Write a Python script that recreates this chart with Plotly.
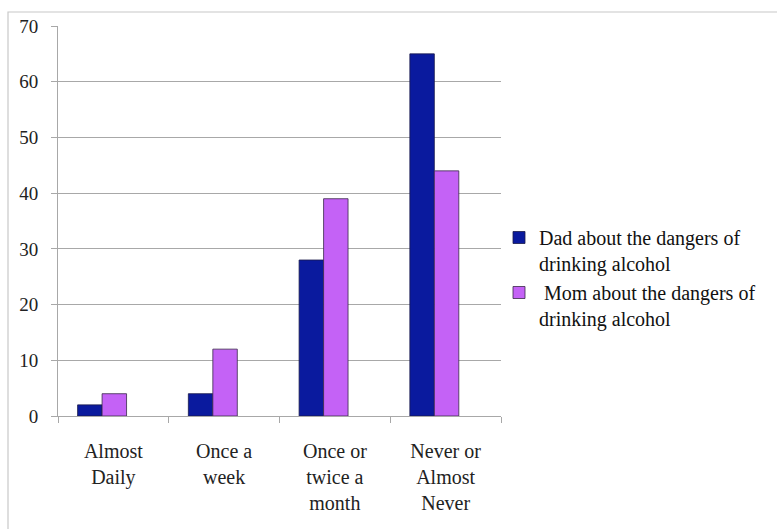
import plotly.graph_objects as go

categories = ["Almost<br>Daily", "Once a<br>week", "Once or<br>twice a<br>month", "Never or<br>Almost<br>Never"]
dad_values = [2, 4, 28, 65]
mom_values = [4, 12, 39, 44]
dad_name = "Dad about the dangers of<br>drinking alcohol"
mom_name = " Mom about the dangers of<br>drinking alcohol"

font_family = "Liberation Serif"

fig = go.Figure()
fig.add_trace(go.Bar(x=categories, y=dad_values, name=dad_name, width=0.221, offset=-0.323,
                     marker=dict(color="#0A1A9E", line=dict(color="#1a1a4a", width=0.8))))
fig.add_trace(go.Bar(x=categories, y=mom_values, name=mom_name, width=0.221, offset=-0.102,
                     marker=dict(color="#C462F6", line=dict(color="#3a2a4a", width=0.8))))

L, R, T, B = 58, 501, 26, 416
W, H = 777, 529
pw, ph = R - L, B - T

def px(xp):
    return (xp - L) / pw

def py(yp):
    return (B - yp) / ph

fig.update_layout(
    width=W, height=H,
    margin=dict(l=L, r=W - R, t=T, b=H - B, pad=0),
    paper_bgcolor="white", plot_bgcolor="white",
    barmode="group",
    font=dict(family=font_family, color="#222222", size=20),
    showlegend=True,
    legend=dict(x=px(499), y=py(218), xanchor="left", yanchor="top",
                font=dict(size=20, family=font_family, color="#111111"),
                valign="top", tracegroupgap=1, itemwidth=30,
                bgcolor="rgba(0,0,0,0)"),
    shapes=[dict(type="rect", xref="paper", yref="paper",
                 x0=px(8), x1=px(790), y0=py(540), y1=py(12),
                 line=dict(color="#c8c8c8", width=1.2), fillcolor="rgba(0,0,0,0)", layer="below")],
)
fig.update_yaxes(range=[0, 70], dtick=10, showgrid=True, gridcolor="#a8a8a8", gridwidth=1,
                 showline=True, linecolor="#a8a8a8", linewidth=1,
                 ticks="outside", ticklen=6, tickcolor="#a8a8a8",
                 tickfont=dict(size=19, family=font_family, color="#222222"),
                 ticklabelstandoff=9, zeroline=False)
fig.update_xaxes(showline=True, linecolor="#a8a8a8", linewidth=1,
                 ticks="outside", ticklen=6, tickcolor="#a8a8a8", tickson="boundaries",
                 tickfont=dict(size=20, family=font_family, color="#222222"),
                 ticklabelstandoff=17)

fig.write_html("out.html")
